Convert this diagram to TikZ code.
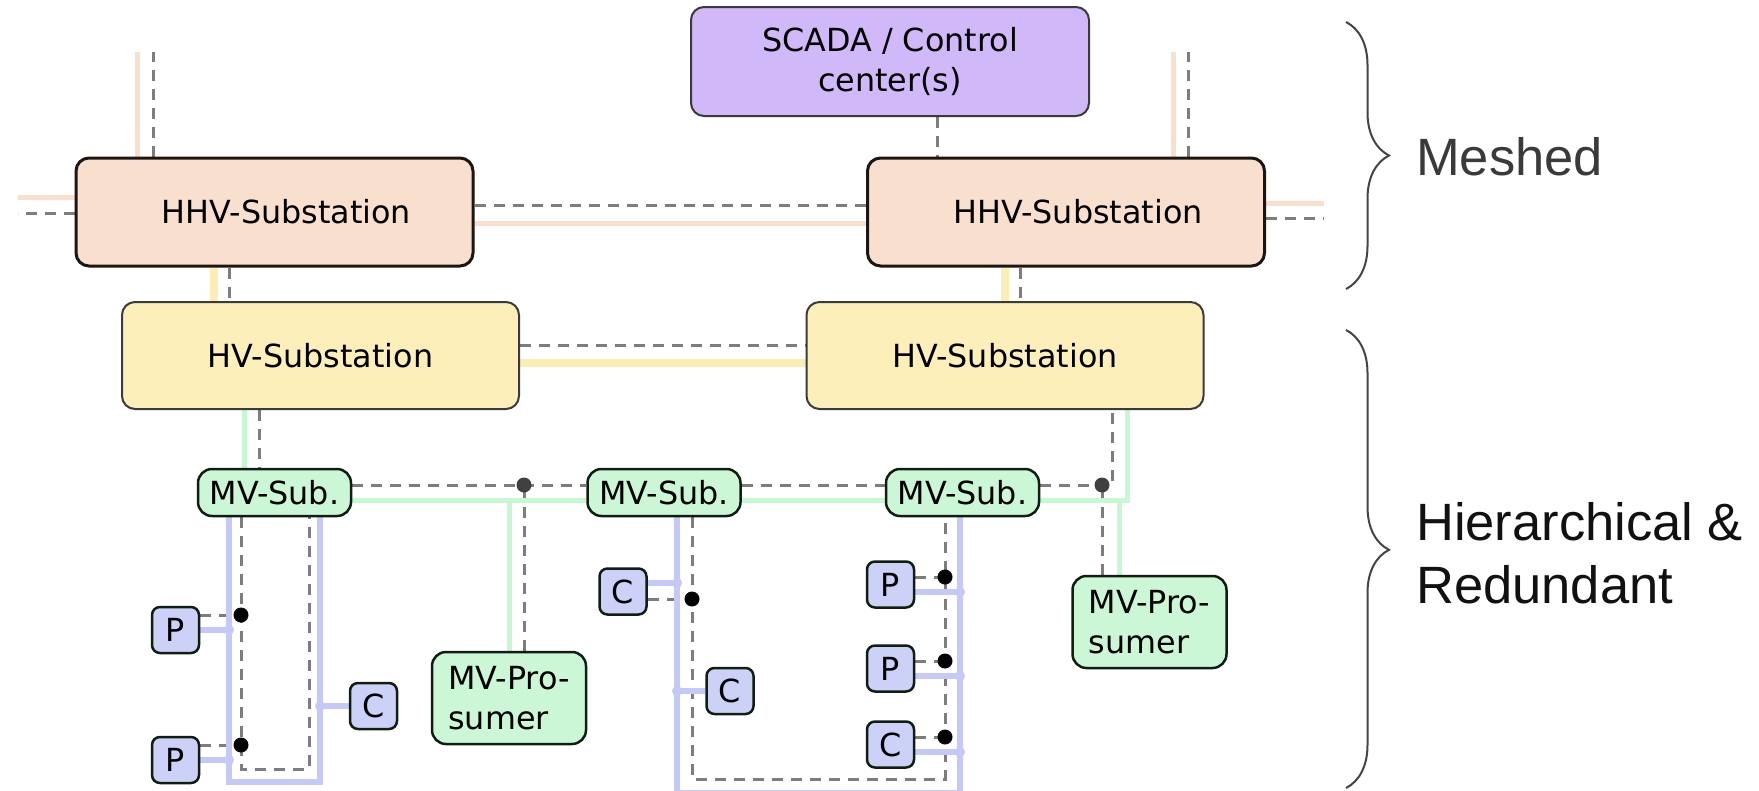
\documentclass[tikz,border=0pt]{standalone}
\usepackage{fontspec}
\setmainfont{DejaVu Sans}
\newfontfamily\sidefont{Liberation Sans}
\usetikzlibrary{calc}
\usetikzlibrary{backgrounds}
\usetikzlibrary{decorations.pathreplacing}

\definecolor{hhvfill}{RGB}{249,223,205}
\definecolor{hhvline}{RGB}{250,223,206}
\definecolor{hhvdraw}{RGB}{28,22,18}
\definecolor{scadafill}{RGB}{208,184,249}
\definecolor{hvfill}{RGB}{252,239,185}
\definecolor{hvline}{RGB}{251,238,181}
\definecolor{mvfill}{RGB}{204,247,214}
\definecolor{mvline}{RGB}{200,247,212}
\definecolor{lvfill}{RGB}{204,209,247}
\definecolor{lvline}{RGB}{196,201,249}
\definecolor{thindraw}{RGB}{58,58,58}
\definecolor{darkdraw}{RGB}{16,30,18}
\definecolor{commgray}{RGB}{125,125,125}
\definecolor{dotgray}{RGB}{64,64,64}
\definecolor{bracegray}{RGB}{68,68,68}
\definecolor{meshgray}{RGB}{58,58,58}
\definecolor{hiergray}{RGB}{17,17,17}

\newcommand{\boxfont}{\fontsize{31.8}{40}\selectfont}
\newcommand{\sidesize}{\sidefont\fontsize{52.5}{63}\selectfont}

\tikzset{
  station/.style={draw, rounded corners=13, inner sep=0, font=\boxfont, align=center},
  hhvbox/.style={station, fill=hhvfill, draw=hhvdraw, line width=3, minimum width=397, minimum height=108},
  hvbox/.style={station, fill=hvfill, draw=thindraw, line width=2, minimum width=397, minimum height=107},
  scadabox/.style={station, fill=scadafill, draw=thindraw, line width=2, minimum width=398, minimum height=109},
  mvbox/.style={station, fill=mvfill, draw=darkdraw, line width=2.5, rounded corners=14, minimum width=153, minimum height=47},
  probox/.style={mvbox, align=left, minimum width=154, minimum height=92},
  lvbox/.style={station, fill=lvfill, draw=darkdraw, line width=2.5, rounded corners=8, minimum width=47, minimum height=46},
  comm/.style={draw=commgray, line width=3, dash pattern=on 11pt off 8pt},
  hhvpower/.style={draw=hhvline, line width=5},
  hvpower/.style={draw=hvline, line width=8},
  mvpower/.style={draw=mvline, line width=5},
  lvpower/.style={draw=lvline, line width=6},
  meshdot/.style={circle, fill=dotgray, inner sep=0, minimum size=15},
  commdot/.style={circle, fill=black, inner sep=0, minimum size=15},
  jdot/.style={circle, fill=lvline, inner sep=0, minimum size=10},
  bracket/.style={decorate, decoration={brace, amplitude=43, aspect=#1}, draw=bracegray, line width=2},
  sidetext/.style={anchor=base west, inner sep=0, font=\sidesize},
}

\begin{document}
\begin{tikzpicture}[x=1pt, y=-1pt]
  \useasboundingbox (0,0) rectangle (1759,790);

  \node[scadabox] (scada) at (890,61.5) {SCADA / Control\\center(s)};
  \node[hhvbox] (hhv1) at (274.5,212) {\hspace*{24pt}HHV-Substation};
  \node[hhvbox] (hhv2) at (1066,212) {\hspace*{24pt}HHV-Substation};
  \node[hvbox] (hv1) at (320.5,355.5) {HV-Substation};
  \node[hvbox] (hv2) at (1005,355.5) {HV-Substation};

  \node[mvbox] (mv1) at (274.5,492.5) {MV-Sub.};
  \node[mvbox] (mv2) at (664,492.5) {MV-Sub.};
  \node[mvbox] (mv3) at (962.5,492.5) {MV-Sub.};
  \node[probox] (pro1) at (509,698) {MV-Pro-\\sumer};
  \node[probox] (pro2) at (1149.5,622) {MV-Pro-\\sumer};

  \node[lvbox] (p1) at (175.5,630) {P};
  \node[lvbox] (p2) at (175.5,760) {P};
  \node[lvbox] (c1) at (373.5,706) {C};
  \node[lvbox] (c2) at (623,591.5) {C};
  \node[lvbox] (c3) at (730,691) {C};
  \node[lvbox] (p3) at (890.5,584.5) {P};
  \node[lvbox] (p4) at (890.5,668.5) {P};
  \node[lvbox] (c4) at (890.5,744.5) {C};

  \begin{scope}[on background layer]
    % communication lines
    \draw[comm] ($(hhv1.north)+(-121.5,0)$) -- ++(0,-105);
    \draw[comm] ($(hhv1.west)+(0,1)$) -- ++(-57,0);
    \draw[comm] ($(hhv2.north)+(122,0)$) -- ++(0,-105);
    \draw[comm] ($(hhv2.east)+(0,6)$) -- ++(58,0);
    \draw[comm] ($(hhv1.east)+(0,-7)$) -- ($(hhv2.west)+(0,-7)$);
    \draw[comm] ($(scada.south)+(47,0)$) coordinate (s) -- (s |- hhv2.north);
    \draw[comm] ($(hhv1.south)+(-45.5,0)$) coordinate (s) -- (s |- hv1.north);
    \draw[comm] ($(hhv2.south)+(-46,0)$) coordinate (s) -- (s |- hv2.north);
    \draw[comm] ($(hv1.east)+(0,-10.5)$) -- ($(hv2.west)+(0,-10.5)$);
    \draw[comm] ($(hv1.south)+(-61.5,0)$) coordinate (s) -- (s |- mv1.north);

    \coordinate (rowc) at ($(mv1.east)+(0,-7.5)$);
    \coordinate (rowp) at ($(mv1.east)+(0,7.5)$);
    \draw[comm] (rowc) -- (rowc -| mv2.west);
    \draw[comm] ($(mv2.east)+(0,-7.5)$) -- ($(mv3.west)+(0,-7.5)$);
    \draw[comm] ($(mv3.east)+(0,-7.5)$) -| ($(hv2.south)+(107,0)$);
    \draw[comm] ($(pro1.north)+(15,0)$) coordinate (s) -- (s |- rowc) node[meshdot] {};
    \draw[comm] ($(pro2.north)+(-47.5,0)$) coordinate (s) -- (s |- rowc) node[meshdot] {};

    \coordinate (b1l) at ($(mv1.south)+(-45.5,0)$);
    \coordinate (b1r) at ($(mv1.south)+(45.5,0)$);
    \coordinate (d1l) at ($(mv1.south)+(-33.5,0)$);
    \coordinate (d1r) at ($(mv1.south)+(34.5,0)$);
    \coordinate (b2) at ($(mv2.south)+(13,0)$);
    \coordinate (d2) at ($(mv2.south)+(28,0)$);
    \coordinate (b3) at ($(mv3.south)+(-2.5,0)$);
    \coordinate (d3) at ($(mv3.south)+(-17.5,0)$);

    \draw[comm] (d1l) -- ++(0,252) -| (d1r);
    \draw[comm] ($(p1.east)+(0,-15)$) coordinate (s) -- (s -| d1l) node[commdot] {};
    \draw[comm] ($(p2.east)+(0,-15)$) coordinate (s) -- (s -| d1l) node[commdot] {};
    \draw[comm] (d2) -- ++(0,262) -| (d3);
    \draw[comm] ($(c2.east)+(0,7.5)$) coordinate (s) -- (s -| d2) node[commdot] {};
    \draw[comm] ($(p3.east)+(0,-7.5)$) coordinate (s) -- (s -| d3) node[commdot] {};
    \draw[comm] ($(p4.east)+(0,-7.5)$) coordinate (s) -- (s -| d3) node[commdot] {};
    \draw[comm] ($(c4.east)+(0,-7.5)$) coordinate (s) -- (s -| d3) node[commdot] {};

    % power lines
    \draw[hhvpower] ($(hhv1.north)+(-137.5,0)$) -- ++(0,-105);
    \draw[hhvpower] ($(hhv1.west)+(0,-15)$) -- ++(-57,0);
    \draw[hhvpower] ($(hhv2.north)+(107,0)$) -- ++(0,-105);
    \draw[hhvpower] ($(hhv2.east)+(0,-9)$) -- ++(58,0);
    \draw[hhvpower] ($(hhv1.east)+(0,11)$) -- ($(hhv2.west)+(0,11)$);
    \draw[hvpower] ($(hhv1.south)+(-60.5,0)$) coordinate (s) -- (s |- hv1.north);
    \draw[hvpower] ($(hhv2.south)+(-61,0)$) coordinate (s) -- (s |- hv2.north);
    \draw[hvpower] ($(hv1.east)+(0,7.5)$) -- ($(hv2.west)+(0,7.5)$);
    \draw[mvpower] ($(hv1.south)+(-76.5,0)$) coordinate (s) -- (s |- mv1.north);

    \draw[mvpower] (rowp) -- (rowp -| mv2.west);
    \draw[mvpower] ($(mv2.east)+(0,7.5)$) -- ($(mv3.west)+(0,7.5)$);
    \draw[mvpower] ($(mv3.east)+(0,7.5)$) -| ($(hv2.south)+(122,0)$);
    \draw[mvpower] (pro1.north) -- (pro1.north |- rowp);
    \draw[mvpower] ($(pro2.north)+(-30.5,0)$) coordinate (s) -- (s |- rowp);

    \draw[lvpower] (b1l) -- ++(0,265) -| (b1r);
    \draw[lvpower] (p1.east) -- (p1.east -| b1l) node[jdot] {};
    \draw[lvpower] (p2.east) -- (p2.east -| b1l) node[jdot] {};
    \draw[lvpower] (c1.west) -- (c1.west -| b1r) node[jdot] {};
    \draw[lvpower] (b2) -- ++(0,276) -| (b3);
    \draw[lvpower] ($(c2.east)+(0,-8.5)$) coordinate (s) -- (s -| b2) node[jdot] {};
    \draw[lvpower] (c3.west) -- (c3.west -| b2) node[jdot] {};
    \draw[lvpower] ($(p3.east)+(0,7.5)$) coordinate (s) -- (s -| b3) node[jdot] {};
    \draw[lvpower] ($(p4.east)+(0,7.5)$) coordinate (s) -- (s -| b3) node[jdot] {};
    \draw[lvpower] ($(c4.east)+(0,7.5)$) coordinate (s) -- (s -| b3) node[jdot] {};
  \end{scope}

  % levels
  \draw[bracket=0.5] (1346,22) -- (1346,289);
  \draw[bracket=0.48] (1346,330) -- (1346,788);
  \node[sidetext, text=meshgray] (meshed) at (1416,175) {Meshed};
  \node[sidetext, text=hiergray] (hier1) at (1416,540) {Hierarchical \&};
  \node[sidetext, text=hiergray] (hier2) at (1416,603) {Redundant};
\end{tikzpicture}
\end{document}
